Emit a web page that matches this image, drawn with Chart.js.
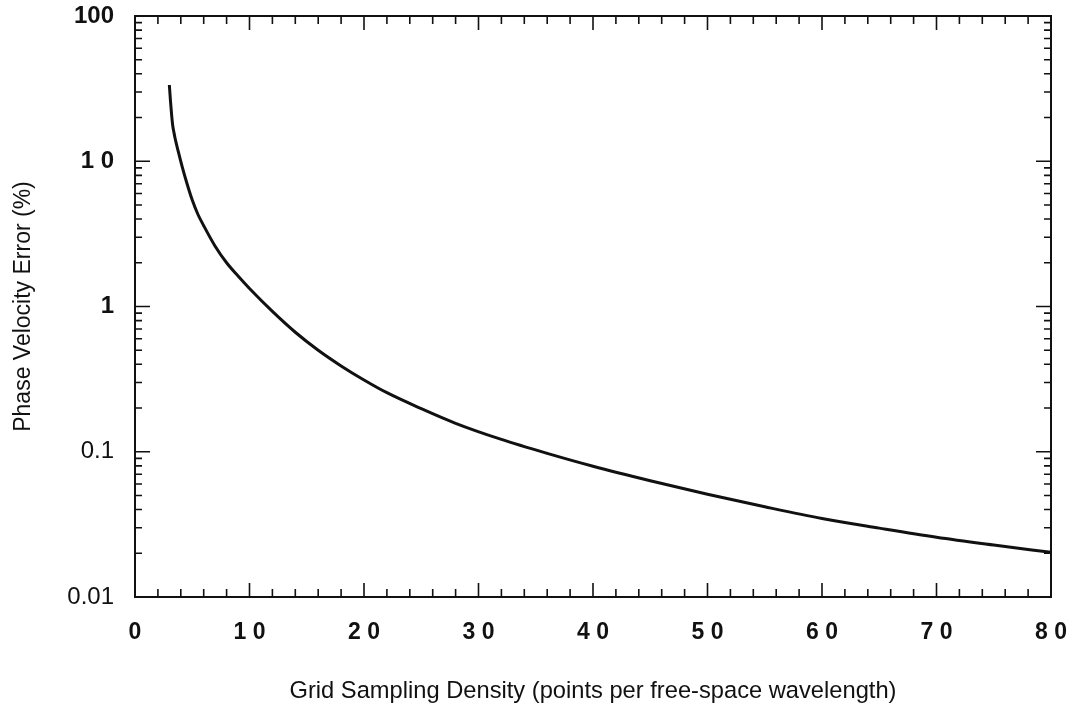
<!DOCTYPE html>
<html>
<head>
<meta charset="utf-8">
<title>Phase velocity error</title>
<script src="https://cdn.jsdelivr.net/npm/chart.js@4.4.0/dist/chart.umd.min.js"></script>
<style>
  html, body { margin: 0; padding: 0; background: #fff; }
</style>
</head>
<body>
<canvas id="chart" width="1073" height="713"></canvas>
<script>
// grid sampling density (points per free-space wavelength)
const density = [3, 3.1, 3.2, 3.3, 3.4, 3.5, 3.8, 4.1, 4.5, 5, 5.5, 6, 7, 8, 9, 10, 12, 14, 16, 18, 20, 22, 25, 28, 32, 36, 40, 45, 50, 55, 60, 65, 70, 75, 80];
// phase velocity error (%)
const phaseError = [33.5, 25.9, 20.8, 17.5, 15.8, 14.4, 11.5, 9.3, 7.2, 5.4, 4.3, 3.6, 2.6, 2.0, 1.62, 1.33, 0.925, 0.665, 0.50, 0.39, 0.312, 0.255, 0.198, 0.157, 0.1216, 0.0975, 0.0795, 0.0632, 0.0510, 0.0418, 0.0347, 0.0298, 0.0258, 0.0228, 0.0203];

const xTicks = [0, 10, 20, 30, 40, 50, 60, 70, 80];
const xTickLabels = ['0', '1 0', '2 0', '3 0', '4 0', '5 0', '6 0', '7 0', '8 0'];
const yTicks = [0.01, 0.1, 1, 10, 100];
const yTickLabels = ['0.01', '0.1', '1', '1 0', '100'];

const FONT = "'Liberation Sans', Arial, Helvetica, sans-serif";
const INK = '#111';

// box round the plot plus inward ticks on all four sides
const frameTicks = {
  id: 'frameTicks',
  afterDatasetsDraw(chart) {
    const { ctx, chartArea: a, scales: { x, y } } = chart;
    ctx.save();
    ctx.strokeStyle = INK;
    ctx.lineWidth = 1.6;
    ctx.beginPath();
    for (let v = 0; v <= 80; v += 2) {
      const px = x.getPixelForValue(v);
      const len = v % 10 === 0 ? 14 : 8;
      ctx.moveTo(px, a.bottom); ctx.lineTo(px, a.bottom - len);
      ctx.moveTo(px, a.top); ctx.lineTo(px, a.top + len);
    }
    for (let d = -2; d < 2; d++) {
      for (let k = 1; k < 10; k++) {
        const py = y.getPixelForValue(k * Math.pow(10, d));
        const len = k === 1 ? 15 : 7;
        ctx.moveTo(a.left, py); ctx.lineTo(a.left + len, py);
        ctx.moveTo(a.right, py); ctx.lineTo(a.right - len, py);
      }
    }
    ctx.stroke();
    ctx.lineWidth = 2;
    ctx.strokeRect(a.left, a.top, a.right - a.left, a.bottom - a.top);
    ctx.restore();
  }
};

new Chart(document.getElementById('chart'), {
  type: 'line',
  data: {
    datasets: [{
      data: density.map((d, i) => ({ x: d, y: phaseError[i] })),
      borderColor: INK,
      borderWidth: 3,
      pointRadius: 0,
      fill: false,
      cubicInterpolationMode: 'monotone'
    }]
  },
  options: {
    responsive: false,
    animation: false,
    layout: { padding: { top: 16, right: 22, left: 0, bottom: 0 } },
    plugins: { legend: { display: false }, tooltip: { enabled: false } },
    scales: {
      x: {
        type: 'linear',
        min: 0,
        max: 80,
        grid: { display: false, drawTicks: false },
        border: { display: false },
        afterBuildTicks: s => { s.ticks = xTicks.map(v => ({ value: v })); },
        afterFit: s => { s.height = 116; s.paddingLeft = 0; s.paddingRight = 0; },
        ticks: {
          color: INK,
          padding: 22,
          maxRotation: 0,
          font: { family: FONT, size: 23, weight: 'bold' },
          callback: (v, i) => xTickLabels[i]
        },
        title: {
          display: true,
          text: 'Grid Sampling Density (points per free-space wavelength)',
          color: INK,
          font: { family: FONT, size: 23.7 },
          padding: { top: 0, bottom: 7 }
        }
      },
      y: {
        type: 'logarithmic',
        min: 0.01,
        max: 100,
        grid: { display: false, drawTicks: false },
        border: { display: false },
        afterBuildTicks: s => { s.ticks = yTicks.map(v => ({ value: v })); },
        afterFit: s => { s.width = 135; s.paddingTop = 0; s.paddingBottom = 0; },
        ticks: {
          color: INK,
          padding: 21,
          font: ctx => ({ family: FONT, size: 24, weight: ctx.tick && ctx.tick.value >= 1 ? 'bold' : 'normal' }),
          callback: (v, i) => yTickLabels[i]
        },
        title: {
          display: true,
          text: 'Phase Velocity Error (%)',
          color: INK,
          font: { family: FONT, size: 23 },
          padding: { top: 10, bottom: 0 }
        }
      }
    }
  },
  plugins: [frameTicks]
});
</script>
</body>
</html>
